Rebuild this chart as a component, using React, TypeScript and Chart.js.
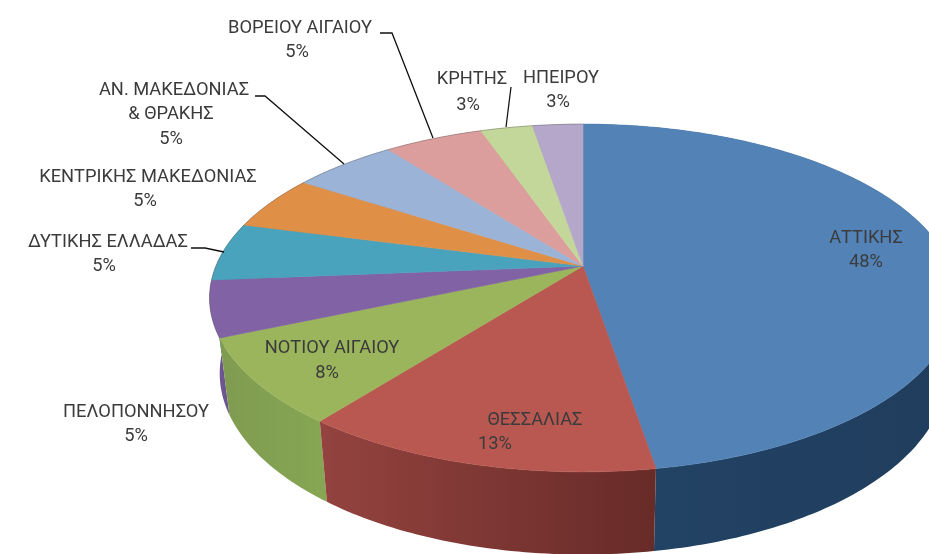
import React, { useEffect, useRef } from "react";
import { Chart, registerables } from "chart.js";

Chart.register(...registerables);

// Share of each slice (labels show the printed percentages).
const regions = ["ΑΤΤΙΚΗΣ", "ΘΕΣΣΑΛΙΑΣ", "ΝΟΤΙΟΥ ΑΙΓΑΙΟΥ", "ΠΕΛΟΠΟΝΝΗΣΟΥ", "ΔΥΤΙΚΗΣ ΕΛΛΑΔΑΣ", "ΚΕΝΤΡΙΚΗΣ ΜΑΚΕΔΟΝΙΑΣ", "ΑΝ. ΜΑΚΕΔΟΝΙΑΣ & ΘΡΑΚΗΣ", "ΒΟΡΕΙΟΥ ΑΙΓΑΙΟΥ", "ΚΡΗΤΗΣ", "ΗΠΕΙΡΟΥ"];
const sliceValues = [47.4, 13.1, 8, 5.2, 5.4, 5.1, 5.4, 5.1, 2.7, 2.6];
const percentLabels = ["48%", "13%", "8%", "5%", "5%", "5%", "5%", "5%", "3%", "3%"];
const topColors = ["#5383b6", "#b85850", "#9bb55c", "#8062a5", "#4aa3bc", "#e08f47", "#9ab3d6", "#dc9e9c", "#c4d79a", "#b4a7c9"];
const wallLeft = ["#234466", "#94433f", "#7f9b50", "#6d5690", "#3a8296", "#b87538", "#7f93b0", "#b58280", "#a0b07e", "#9488a6"];
const wallRight = ["#203d5d", "#672b28", "#86a653", "#6d5690", "#3a8296", "#b87538", "#7f93b0", "#b58280", "#a0b07e", "#9488a6"];

// Text placement: [text, centre x, centre y]
const textPlacement: [string, number, number][] = [
  [regions[0], 866, 238], [percentLabels[0], 866, 262],
  [regions[1], 535, 420], [percentLabels[1], 495, 444],
  [regions[2], 332, 348], [percentLabels[2], 327, 373],
  [regions[3], 136, 412], [percentLabels[3], 136, 436],
  [regions[4], 108, 242], [percentLabels[4], 104, 266],
  [regions[5], 148, 177], [percentLabels[5], 145, 201],
  ["ΑΝ. ΜΑΚΕΔΟΝΙΑΣ", 174, 90], ["& ΘΡΑΚΗΣ", 171, 114], [percentLabels[6], 171, 139],
  [regions[7], 300, 28], [percentLabels[7], 297, 52],
  [regions[8], 472, 79], [percentLabels[8], 468, 105],
  [regions[9], 561, 78], [percentLabels[9], 558, 102],
];
const leaders: [number, number][][] = [
  [[380, 33], [392, 33], [433, 138]],
  [[255, 96], [265, 96], [344, 164]],
  [[191, 248], [205, 248], [224, 252]],
  [[511, 87], [506, 127]],
];

// Perspective of the disc
const TILT = 0.184;
const DEPTH_RATIO = 168 / 367;
const WALL_DROP = 74;
const WALL_SCALE_X = 0.973;
const WALL_SCALE_Y = 1.042;

function project(el: any, angle: number, lower: boolean): [number, number] {
  const u = Math.cos(angle);
  const v = Math.sin(angle);
  const sx = lower ? WALL_SCALE_X : 1;
  const sy = lower ? WALL_SCALE_Y : 1;
  const w = 1 - TILT * v;
  return [
    el.x + (el.outerRadius * sx * u) / w,
    el.y + (lower ? WALL_DROP : 0) + (el.outerRadius * DEPTH_RATIO * sy * v) / w,
  ];
}

function rim(el: any, lower: boolean, reverse = false): [number, number][] {
  const n = Math.max(4, Math.ceil((el.endAngle - el.startAngle) * 60));
  const pts: [number, number][] = [];
  for (let i = 0; i <= n; i++) {
    const a = el.startAngle + ((el.endAngle - el.startAngle) * i) / n;
    pts.push(project(el, a, lower));
  }
  return reverse ? pts.reverse() : pts;
}

const pie3d = {
  id: "pie3d",
  beforeDatasetsDraw(chart: any) {
    const ctx = chart.ctx as CanvasRenderingContext2D;
    const arcs = chart.getDatasetMeta(0).data;
    ctx.save();
    // walls, back to front so that nearer walls cover farther ones
    const order = arcs
      .map((el: any, i: number) => ({ el, i, depth: Math.sin((el.startAngle + el.endAngle) / 2) }))
      .sort((a: any, b: any) => a.depth - b.depth);
    order.forEach(({ el, i }: any) => {
      const upper = rim(el, false);
      const lowerRim = rim(el, true, true);
      const xs = upper.map((p) => p[0]);
      const g = ctx.createLinearGradient(Math.min(...xs), 0, Math.max(...xs), 0);
      g.addColorStop(0, wallLeft[i]);
      g.addColorStop(1, wallRight[i]);
      ctx.fillStyle = g;
      ctx.beginPath();
      [...upper, ...lowerRim].forEach((p, k) => (k ? ctx.lineTo(p[0], p[1]) : ctx.moveTo(p[0], p[1])));
      ctx.closePath();
      ctx.fill();
    });
    arcs.forEach((el: any, i: number) => {
      ctx.fillStyle = topColors[i];
      ctx.strokeStyle = topColors[i];
      ctx.lineWidth = 0.6;
      ctx.beginPath();
      ctx.moveTo(el.x, el.y);
      rim(el, false).forEach((p) => ctx.lineTo(p[0], p[1]));
      ctx.closePath();
      ctx.fill();
      ctx.stroke();
    });
    // faint grey edge along the far rim
    ctx.strokeStyle = "rgba(100,100,100,0.4)";
    ctx.lineWidth = 1;
    arcs.forEach((el: any, i: number) => {
      if (i < 3) return;
      ctx.beginPath();
      rim(el, false).forEach((p, k) => (k ? ctx.lineTo(p[0], p[1]) : ctx.moveTo(p[0], p[1])));
      ctx.stroke();
    });
    ctx.restore();
    return false;
  },
  afterDraw(chart: any) {
    const ctx = chart.ctx as CanvasRenderingContext2D;
    ctx.save();
    ctx.strokeStyle = "#111";
    ctx.lineWidth = 1.3;
    leaders.forEach((line) => {
      ctx.beginPath();
      line.forEach((p, k) => (k ? ctx.lineTo(p[0], p[1]) : ctx.moveTo(p[0], p[1])));
      ctx.stroke();
    });
    ctx.fillStyle = "#3b3b3d";
    ctx.font = '18.3px Roboto, "Noto Sans", sans-serif';
    ctx.textAlign = "center";
    ctx.textBaseline = "middle";
    textPlacement.forEach(([t, x, y]) => ctx.fillText(t, x, y));
    ctx.restore();
  },
};

export default function App() {
  const ref = useRef<HTMLCanvasElement>(null);
  useEffect(() => {
    const chart = new Chart(ref.current as HTMLCanvasElement, {
      type: "pie",
      data: {
        labels: regions,
        datasets: [{ data: sliceValues, backgroundColor: topColors, borderWidth: 0, radius: 367, clip: false } as any],
      },
      options: {
        responsive: false,
        animation: false,
        events: [],
        layout: { padding: { left: 237, right: 0, top: 0, bottom: 22 } },
        plugins: { legend: { display: false }, tooltip: { enabled: false } },
      },
      plugins: [pie3d],
    } as any);
    return () => chart.destroy();
  }, []);
  return (
    <div style={{ position: "fixed", left: 0, top: 0, width: 929, height: 554, background: "#fff", overflow: "hidden" }}>
      <canvas ref={ref} width={929} height={554} style={{ display: "block" }} />
    </div>
  );
}
